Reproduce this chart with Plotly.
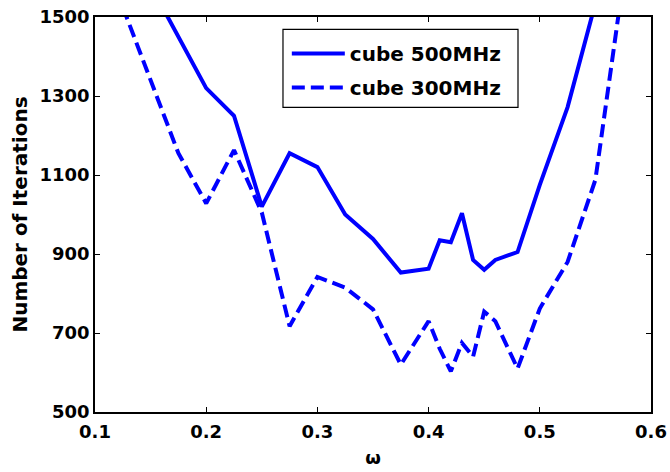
import plotly.graph_objects as go

# omega values and iteration counts
omega_500 = [0.15, 0.2, 0.225, 0.25, 0.275, 0.3, 0.325, 0.35, 0.375, 0.4,
             0.41, 0.42, 0.43, 0.44, 0.45, 0.46, 0.48, 0.5, 0.525, 0.55]
iters_500 = [1580, 1320, 1250, 1020, 1155, 1120, 1000, 938, 853, 863,
             935, 930, 1003, 885, 860, 885, 905, 1075, 1272, 1535]

omega_300 = [0.125, 0.175, 0.2, 0.225, 0.25, 0.275, 0.3, 0.325, 0.35, 0.375,
             0.4, 0.41, 0.42, 0.43, 0.44, 0.45, 0.46, 0.48, 0.5, 0.525, 0.55, 0.575]
iters_300 = [1525, 1155, 1028, 1163, 1005, 717, 842, 815, 760, 620,
             730, 660, 603, 675, 640, 754, 730, 610, 762, 880, 1088, 1590]

series_names = ["cube 500MHz", "cube 300MHz"]
x_ticks = [0.1, 0.2, 0.3, 0.4, 0.5, 0.6]
y_ticks = [500, 700, 900, 1100, 1300, 1500]

FONT = dict(family="DejaVu Sans", size=18, color="black", weight="bold")
BLUE = "#0000FF"

fig = go.Figure()
fig.add_trace(go.Scatter(x=omega_500, y=iters_500, mode="lines", name=series_names[0],
                         line=dict(color=BLUE, width=4), legendgroup="a"))
fig.add_trace(go.Scatter(x=omega_300, y=iters_300, mode="lines", name=series_names[1],
                         line=dict(color=BLUE, width=4, dash="13px,6px"), legendgroup="b"))

axis_common = dict(showline=True, linecolor="black", linewidth=1.5, mirror="ticks",
                   ticks="inside", ticklen=5, tickwidth=1, tickcolor="black",
                   showgrid=False, zeroline=False, tickfont=FONT)

fig.update_xaxes(range=[0.1, 0.6], tickvals=x_ticks, ticktext=[f"{v:.1f}" for v in x_ticks],
                 ticklabelstandoff=3,
                 title=dict(text="ω", font=FONT, standoff=10), **axis_common)
fig.update_yaxes(range=[500, 1500], tickvals=y_ticks, ticktext=[str(v) for v in y_ticks],
                 title=dict(text="Number of Iterations", font=dict(FONT, size=20), standoff=7),
                 **axis_common)

# legend frame (white box with black border) behind the legend entries
fig.add_shape(type="rect", xref="paper", yref="paper",
              x0=0.3381, x1=0.7608, y0=0.7714, y1=0.9689,
              line=dict(color="black", width=1.2), fillcolor="white", layer="above")

fig.update_layout(
    width=670, height=472,
    margin=dict(l=95, r=19, t=17, b=60, autoexpand=False),
    paper_bgcolor="white", plot_bgcolor="white",
    showlegend=True,
    legend=dict(x=0.345, y=0.957, xanchor="left", yanchor="top",
                bgcolor="rgba(0,0,0,0)", borderwidth=0,
                font=dict(FONT, size=20), itemwidth=53, tracegroupgap=5,
                traceorder="grouped"),
)

fig.write_html("out.html")
